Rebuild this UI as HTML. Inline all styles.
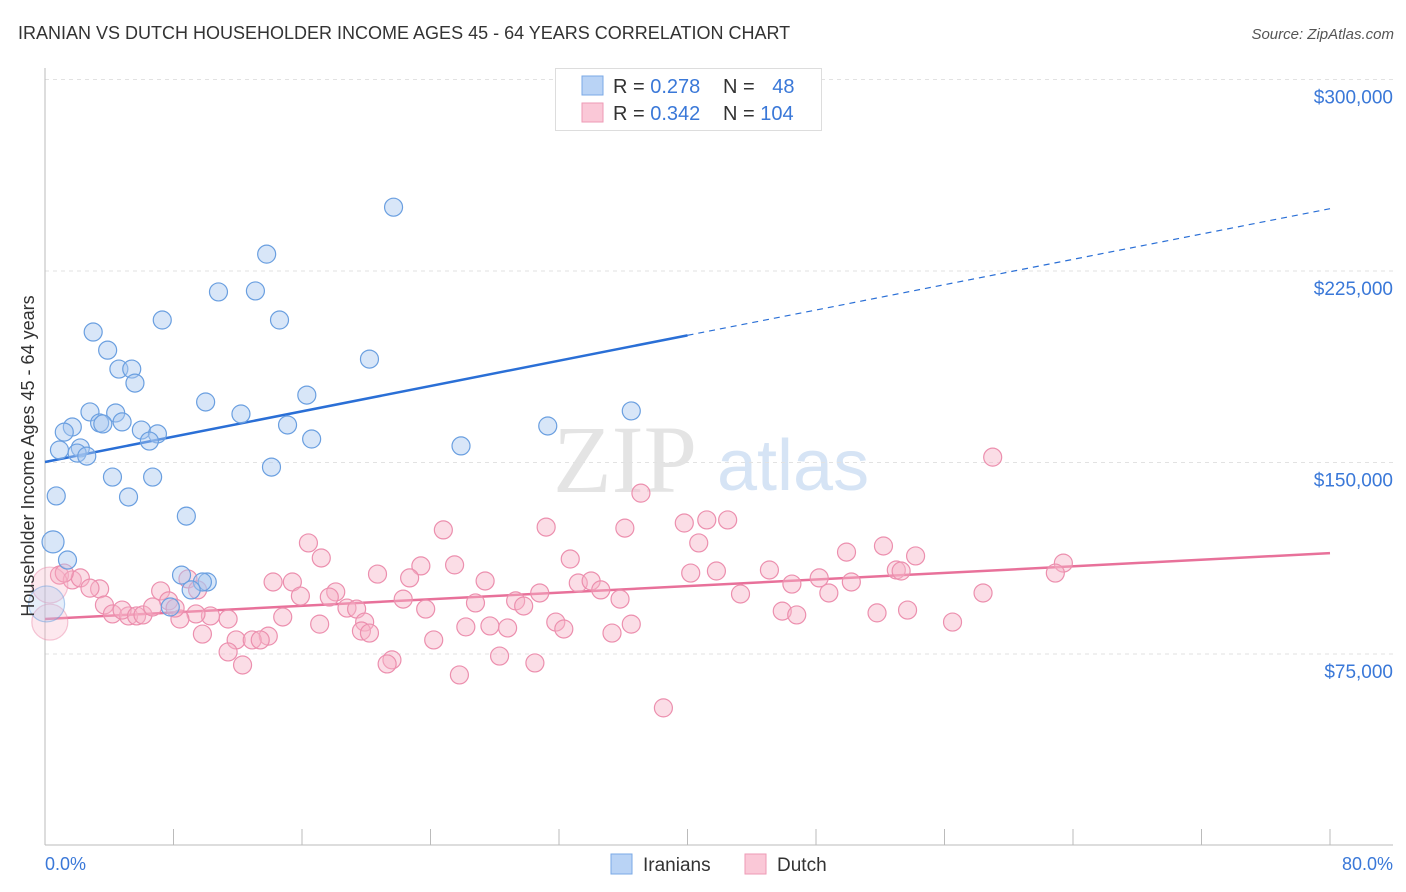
<!DOCTYPE html>
<html><head><meta charset="utf-8"><style>
body{margin:0;background:#fff;font-family:"Liberation Sans",sans-serif;}
svg{display:block}
</style></head><body>
<svg id="chart" width="1406" height="892" xmlns="http://www.w3.org/2000/svg">
<text x="18" y="39" font-size="18" fill="#333">IRANIAN VS DUTCH HOUSEHOLDER INCOME AGES 45 - 64 YEARS CORRELATION CHART</text>
<text x="1394" y="39" font-size="15" fill="#555" font-style="italic" text-anchor="end">Source: ZipAtlas.com</text>
<g>
<text x="553" y="492" font-size="96" font-family="Liberation Serif,serif" fill="#e4e4e4">ZIP</text>
<text x="717" y="490" font-size="72" fill="#d6e4f5">atlas</text>
</g>
<g id="grid"></g>
<g id="axes"></g>
<g id="lines"></g>
<g id="pts"></g>
<text transform="translate(34,456) rotate(-90)" font-size="18" fill="#333" text-anchor="middle">Householder Income Ages 45 - 64 years</text>
<text x="45" y="870" font-size="18" fill="#3a78d8">0.0%</text>
<text x="1393" y="870" font-size="18" fill="#3a78d8" text-anchor="end">80.0%</text>
<g>
<rect x="555.5" y="68.5" width="266" height="62" fill="#fff" stroke="#ddd"/>
<rect x="582" y="76" width="21" height="19" fill="#b9d3f5" stroke="#7aa8e6"/>
<rect x="582" y="103" width="21" height="19" fill="#fac8d7" stroke="#ee9ab5"/>
<text x="613" y="93" font-size="20" fill="#333">R = <tspan fill="#3a78d8">0.278</tspan></text>
<text x="723" y="93" font-size="20" fill="#333">N = <tspan fill="#3a78d8" dx="12">48</tspan></text>
<text x="613" y="120" font-size="20" fill="#333">R = <tspan fill="#3a78d8">0.342</tspan></text>
<text x="723" y="120" font-size="20" fill="#333">N = <tspan fill="#3a78d8">104</tspan></text>
</g>
<g>
<rect x="611" y="854" width="21" height="20" fill="#b9d3f5" stroke="#7aa8e6"/>
<text x="643" y="871" font-size="19" fill="#333">Iranians</text>
<rect x="745" y="854" width="21" height="20" fill="#fac8d7" stroke="#ee9ab5"/>
<text x="777" y="871" font-size="19" fill="#333">Dutch</text>
</g>
</svg>
<script>
const yTicks=[75000,150000,225000,300000];
const yTickLabels=["$75,000","$150,000","$225,000","$300,000"];
const xTicks=[0,8,16,24,32,40,48,56,64,72,80];
const blueX=[21.7,13.8,10.8,13.1,7.3,14.6,3.0,3.9,20.2,4.6,5.4,5.6,16.3,10.0,2.8,4.4,12.2,36.5,3.4,3.6,4.8,15.1,31.3,1.7,1.2,6.0,7.0,6.5,16.6,25.9,0.9,2.2,2.0,2.6,14.1,4.2,6.7,0.7,5.2,8.8,0.5,1.4,8.5,10.1,9.8,9.1,7.8,0.1];
const blueY=[250000,231600,216800,217200,205800,205800,201100,194000,190500,186600,186600,181100,176400,173700,169800,169400,169000,170200,165500,165100,165900,164700,164300,163900,161900,162700,161200,158400,159200,156500,154900,155700,153700,152500,148200,144300,144300,136900,136500,129000,118900,111800,105900,103200,103200,100100,93400,94600];
const blueR=[9,9,9,9,9,9,9,9,9,9,9,9,9,9,9,9,9,9,9,9,9,9,9,9,9,9,9,9,9,9,9,9,9,9,9,9,9,9,9,9,11,9,9,9,9,9,9,18];
const pinkX=[59.0,37.1,24.8,31.2,36.1,42.5,39.8,41.2,40.7,16.4,17.2,32.7,52.2,49.9,54.2,63.4,62.9,25.5,23.4,20.7,22.7,45.1,41.8,40.2,53.0,53.3,48.2,50.2,46.5,33.2,34.0,27.4,14.2,15.4,34.6,30.8,15.9,18.1,17.7,22.3,29.3,35.8,43.3,58.4,48.8,26.8,29.8,23.7,18.8,19.4,45.9,53.7,51.8,46.8,11.4,10.3,9.4,14.8,19.9,31.8,17.1,36.5,56.5,32.3,26.2,27.7,28.8,19.7,20.2,35.3,9.8,13.9,11.9,12.9,13.4,24.2,11.4,28.3,21.6,21.3,30.5,12.3,25.8,38.5,0.9,1.7,2.2,3.4,2.8,3.7,4.2,5.2,4.8,5.7,6.1,6.7,7.2,7.7,8.4,8.1,8.9,9.5,1.2,0.3,0.3];
const pinkY=[152100,138000,123600,124700,124300,127500,126300,127500,118500,118500,112600,112200,117300,114900,113400,110600,106700,109900,109500,106300,104800,107900,107500,106700,107900,107500,104800,103200,102400,102800,103600,103600,103200,103200,100100,98900,97700,99300,97300,96500,95800,96500,98500,98900,98900,95000,93800,92600,93000,92600,91800,92200,91100,90300,88700,89900,90700,89500,87500,87500,86700,86700,87500,84800,85600,86000,85200,84000,83200,83200,82800,82000,80500,80500,80500,80500,75800,74200,72700,71100,71500,70700,66800,53900,105900,104000,104800,100500,100800,94200,90700,89900,92200,89900,90300,93400,99700,95800,88700,93000,104400,100100,106700,102000,87500];
const blueLine=[150200,1.24]; // intercept ($), slope ($k per %)
const pinkLine=[88700,0.3225];
const NS="http://www.w3.org/2000/svg";
const X0=45,X1=1330,XMAX=80;
function sx(v){return X0+(X1-X0)*v/XMAX;}
function sy(v){return 654-(v-75000)*191.5/75000;}
function mk(tag,attrs,parent){const e=document.createElementNS(NS,tag);for(const k in attrs)e.setAttribute(k,attrs[k]);parent.appendChild(e);return e;}
const grid=document.getElementById('grid'),axes=document.getElementById('axes'),lines=document.getElementById('lines'),pts=document.getElementById('pts');
yTicks.forEach((t,i)=>{
 const l=mk('line',{x1:45,x2:1393,y1:sy(t),y2:sy(t),stroke:'#e2e2e2','stroke-dasharray':'4,4'},grid);
 
 
 const tx=mk('text',{x:1393,y:sy(t)+24,'font-size':19,fill:'#3a78d8','text-anchor':'end'},grid);
 tx.textContent=yTickLabels[i];
 
 
});
const ya=mk('line',{x1:45,x2:45,y1:68,y2:845,stroke:'#bbb'},axes);


const xa=mk('line',{x1:45,x2:1393,y1:845,y2:845,stroke:'#bbb'},axes);


xTicks.forEach(t=>{
 const l=mk('line',{x1:sx(t),x2:sx(t),y1:829,y2:845,stroke:'#bbb'},axes);
 
 
});
function drawPts(xs,ys,rs,fill,stroke,name){
 xs.forEach((x,i)=>{
  const r=rs?rs[i]:9;
  const c=mk('circle',{cx:sx(x),cy:sy(ys[i]),r:r,fill:fill,'fill-opacity':r>12?0.3:0.45,stroke:stroke,'stroke-width':1.2,'stroke-opacity':r>12?0.5:1},pts);
  
  
 });
}
const pinkR=pinkX.map((_,i)=>i>=pinkX.length-2?18:9);
drawPts(pinkX,pinkY,pinkR,'#f7b3c8','#ec8fae','dutch-point');
drawPts(blueX,blueY,blueR,'#a8c8f0','#6a9fe0','iranian-point');
function fy(L,x){return L[0]+L[1]*1000*x;}
const b1=mk('line',{x1:sx(0),y1:sy(fy(blueLine,0)),x2:sx(40),y2:sy(fy(blueLine,40)),stroke:'#2a6fd6','stroke-width':2.5},lines);


const b2=mk('line',{x1:sx(40),y1:sy(fy(blueLine,40)),x2:sx(80),y2:sy(fy(blueLine,80)),stroke:'#2a6fd6','stroke-width':1.2,'stroke-dasharray':'6,5'},lines);


const p1=mk('line',{x1:sx(0),y1:sy(fy(pinkLine,0)),x2:sx(80),y2:sy(fy(pinkLine,80)),stroke:'#e8719a','stroke-width':2.5},lines);


</script>
</body></html>
